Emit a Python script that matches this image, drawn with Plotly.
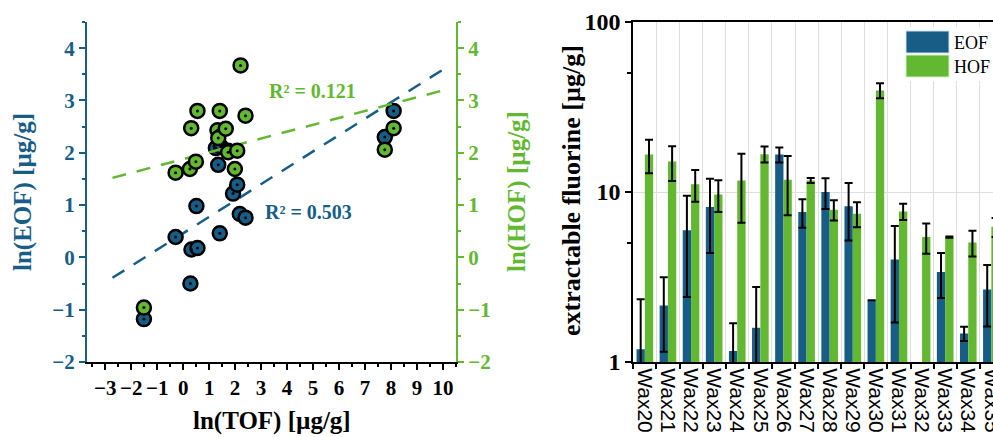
import plotly.graph_objects as go

# ---------------- data: scatter (left panel) ----------------
tof_eof = [-1.51, -0.29, 0.32, 0.55, 0.51, 0.28, 1.41, 1.35, 1.26, 1.45, 1.73, 1.92, 2.08, 2.18, 2.40, 7.76, 8.10]
ln_eof = [-1.18, 0.39, 0.15, 0.18, 0.98, -0.50, 0.46, 1.77, 2.09, 2.12, 2.04, 1.22, 1.39, 0.83, 0.76, 2.30, 2.80]
tof_hof = [-1.51, -0.29, 0.26, 0.49, 0.31, 0.55, 1.41, 1.32, 1.35, 1.64, 1.73, 2.08, 1.99, 2.21, 2.40, 7.76, 8.10]
ln_hof = [-0.96, 1.62, 1.69, 1.83, 2.47, 2.80, 2.80, 2.43, 2.28, 2.46, 2.01, 2.04, 1.69, 3.67, 2.71, 2.06, 2.47]

fit_x = [-2.72, 10.06]
eof_fit = {"slope": 0.313, "intercept": 0.461, "r2": "0.503"}
hof_fit = {"slope": 0.1315, "intercept": 1.878, "r2": "0.121"}

# ---------------- data: bars (right panel) ----------------
samples = ["Wax20", "Wax21", "Wax22", "Wax23", "Wax24", "Wax25", "Wax26", "Wax27",
           "Wax28", "Wax29", "Wax30", "Wax31", "Wax32", "Wax33", "Wax34", "Wax35"]
eof = [1.19, 2.15, 5.96, 8.17, 1.16, 1.59, 16.6, 7.62, 10.0, 8.24, 2.31, 4.01, None, 3.38, 1.47, 2.67]
eof_err = [1.15, 1.0, 3.55, 3.8, 0.53, 1.17, 1.7, 1.45, 2.05, 3.05, None, 2.3, None, 1.0, 0.14, 1.05]
hof = [16.6, 15.1, 11.1, 9.68, 11.7, 16.7, 11.8, 11.7, 7.87, 7.46, 39.6, 7.69, 5.43, 5.43, 5.04, 6.24]
hof_err = [3.7, 3.5, 2.35, 2.05, 5.1, 1.8, 4.5, 0.4, 1.07, 1.25, 4.0, 0.85, 1.1, 0.05, 0.87, 0.8]

BLUE = "#175d86"
GREEN = "#63b832"
SERIF = "Liberation Serif"
SANS = "Liberation Sans"
W, H = 993, 437


def px_x(p):
    return p / W


def px_y(p):
    return 1 - p / H


fig = go.Figure()

# trend lines + points
fig.add_trace(go.Scatter(
    x=fit_x, y=[eof_fit["slope"] * v + eof_fit["intercept"] for v in fit_x],
    mode="lines", line=dict(color=BLUE, width=2.5, dash="14px,11px"),
    xaxis="x", yaxis="y", showlegend=False, hoverinfo="skip"))
fig.add_trace(go.Scatter(
    x=tof_eof, y=ln_eof, mode="markers",
    marker=dict(size=14, color=BLUE, line=dict(color="black", width=2.5)),
    xaxis="x", yaxis="y", showlegend=False))
fig.add_trace(go.Scatter(
    x=tof_eof, y=ln_eof, mode="markers",
    marker=dict(size=3, color="black"),
    xaxis="x", yaxis="y", showlegend=False, hoverinfo="skip"))

fig.add_trace(go.Scatter(
    x=fit_x, y=[hof_fit["slope"] * v + hof_fit["intercept"] for v in fit_x],
    mode="lines", line=dict(color=GREEN, width=2.5, dash="14px,11px"),
    xaxis="x", yaxis="y2", showlegend=False, hoverinfo="skip"))
fig.add_trace(go.Scatter(
    x=tof_hof, y=ln_hof, mode="markers",
    marker=dict(size=14, color=GREEN, line=dict(color="black", width=2.5)),
    xaxis="x", yaxis="y2", showlegend=False))
fig.add_trace(go.Scatter(
    x=tof_hof, y=ln_hof, mode="markers",
    marker=dict(size=3, color="black"),
    xaxis="x", yaxis="y2", showlegend=False, hoverinfo="skip"))

# bars
fig.add_trace(go.Bar(
    x=samples, y=eof, name="EOF", marker=dict(color=BLUE, line=dict(width=0)),
    error_y=dict(type="data", array=eof_err, color="black", thickness=2, width=4),
    xaxis="x3", yaxis="y3", showlegend=False))
fig.add_trace(go.Bar(
    x=samples, y=hof, name="HOF", marker=dict(color=GREEN, line=dict(width=0)),
    error_y=dict(type="data", array=hof_err, color="black", thickness=2, width=4),
    xaxis="x3", yaxis="y3", showlegend=False))

left_dom = [px_x(87), px_x(456)]
vdom = [px_y(362), px_y(22)]
xr = [-3.7, 10.5]
yr = [-2, 4.5]


def bold(size, color):
    return dict(family=SERIF, size=size, color=color, weight="bold")


fig.update_layout(
    template="none",
    width=W, height=H, margin=dict(l=0, r=0, t=0, b=0, autoexpand=False),
    paper_bgcolor="white", plot_bgcolor="white",
    barmode="group", bargap=0.28, bargroupgap=0,
    xaxis=dict(domain=left_dom, range=xr, anchor="y", dtick=1, tick0=0, automargin=False,
               showline=True, linecolor="black", linewidth=2,
               ticks="outside", ticklen=6, tickwidth=1.5, tickcolor="black",
               minor=dict(dtick=0.5, ticks="outside", ticklen=3, tickwidth=1.5, tickcolor="black"),
               showgrid=False, zeroline=False,
               tickfont=bold(21, "black")),
    xaxis2=dict(overlaying="x", side="top", range=xr, anchor="y", dtick=1, tick0=0, automargin=False,
                showline=True, linecolor="black", linewidth=2,
                ticks="inside", ticklen=6, tickwidth=1.5, tickcolor="black",
                minor=dict(dtick=0.5, ticks="inside", ticklen=3, tickwidth=1.5, tickcolor="black"),
                showticklabels=False, showgrid=False, zeroline=False),
    yaxis=dict(domain=vdom, range=yr, anchor="x", dtick=1, automargin=False,
               showline=True, linecolor=BLUE, linewidth=2,
               ticks="outside", ticklen=6, tickwidth=1.5, tickcolor=BLUE,
               minor=dict(dtick=0.5, ticks="outside", ticklen=3, tickwidth=1.5, tickcolor=BLUE),
               showgrid=False, zeroline=False,
               tickfont=bold(21, BLUE)),
    yaxis2=dict(overlaying="y", side="right", range=yr, anchor="x", dtick=1, automargin=False,
                showline=True, linecolor=GREEN, linewidth=2,
                ticks="outside", ticklen=6, tickwidth=1.5, tickcolor=GREEN,
                minor=dict(dtick=0.5, ticks="outside", ticklen=3, tickwidth=1.5, tickcolor=GREEN),
                showgrid=False, zeroline=False,
                tickfont=bold(21, GREEN)),
    xaxis3=dict(domain=[px_x(633.3), 1.0], anchor="y3", type="category", automargin=False,
                range=[-0.5, 15.07], tickson="boundaries", dtick=1,
                showline=True, mirror=True, linecolor="black", linewidth=2,
                ticks="outside", ticklen=5, tickwidth=1.5, tickcolor="black",
                showgrid=True, gridcolor="#dedede", gridwidth=1,
                tickangle=90, tickfont=dict(family=SANS, size=21, color="black")),
    yaxis3=dict(domain=vdom, anchor="x3", type="log", range=[0, 2], dtick=1, automargin=False,
                showline=True, linecolor="black", linewidth=2,
                ticks="outside", ticklen=6, tickwidth=1.5, tickcolor="black",
                minor=dict(tickmode="array", tickvals=[5, 50], ticks="outside",
                           ticklen=4, tickwidth=1.5, tickcolor="black", showgrid=False),
                showgrid=True, gridcolor="#dedede", zeroline=False,
                tickfont=bold(24, "black")),
)


def ann(text, x, y, font, angle=0, xanchor="center", xref="paper", yref="paper"):
    return dict(text=text, x=x, y=y, xref=xref, yref=yref, xanchor=xanchor,
                yanchor="middle", textangle=angle, showarrow=False, font=font)


annotations = [
    ann("R² = " + hof_fit["r2"], 4.99, 3.19, bold(20, GREEN), xref="x", yref="y"),
    ann("R² = " + eof_fit["r2"], 4.83, 0.86, bold(20, BLUE), xref="x", yref="y"),
    ann("ln(EOF) [µg/g]", px_x(23), px_y(192), bold(25, BLUE), angle=-90),
    ann("ln(HOF) [µg/g]", px_x(517), px_y(192), bold(25, GREEN), angle=-90),
    ann("ln(TOF) [µg/g]", px_x(272), px_y(421), bold(25, "black")),
    ann("extractable fluorine [µg/g]", px_x(571), px_y(191), bold(26, "black"), angle=-90),
    ann("EOF", px_x(952), px_y(43), dict(family=SERIF, size=18, color="black"), xanchor="left"),
    ann("HOF", px_x(952), px_y(67), dict(family=SERIF, size=18, color="black"), xanchor="left"),
]
fig.update_layout(annotations=annotations)

shapes = [
    dict(type="rect", xref="paper", yref="paper", x0=px_x(902), x1=1.0, y0=px_y(81), y1=px_y(27),
         fillcolor="white", line=dict(width=0), layer="above"),
    dict(type="rect", xref="paper", yref="paper", x0=px_x(906), x1=px_x(949), y0=px_y(53), y1=px_y(31),
         fillcolor=BLUE, line=dict(color="#cfe0ea", width=1), layer="above"),
    dict(type="rect", xref="paper", yref="paper", x0=px_x(906), x1=px_x(949), y0=px_y(77), y1=px_y(55),
         fillcolor=GREEN, line=dict(color="#d8eccd", width=1), layer="above"),
]
fig.update_layout(shapes=shapes)

fig.write_html("out.html")
